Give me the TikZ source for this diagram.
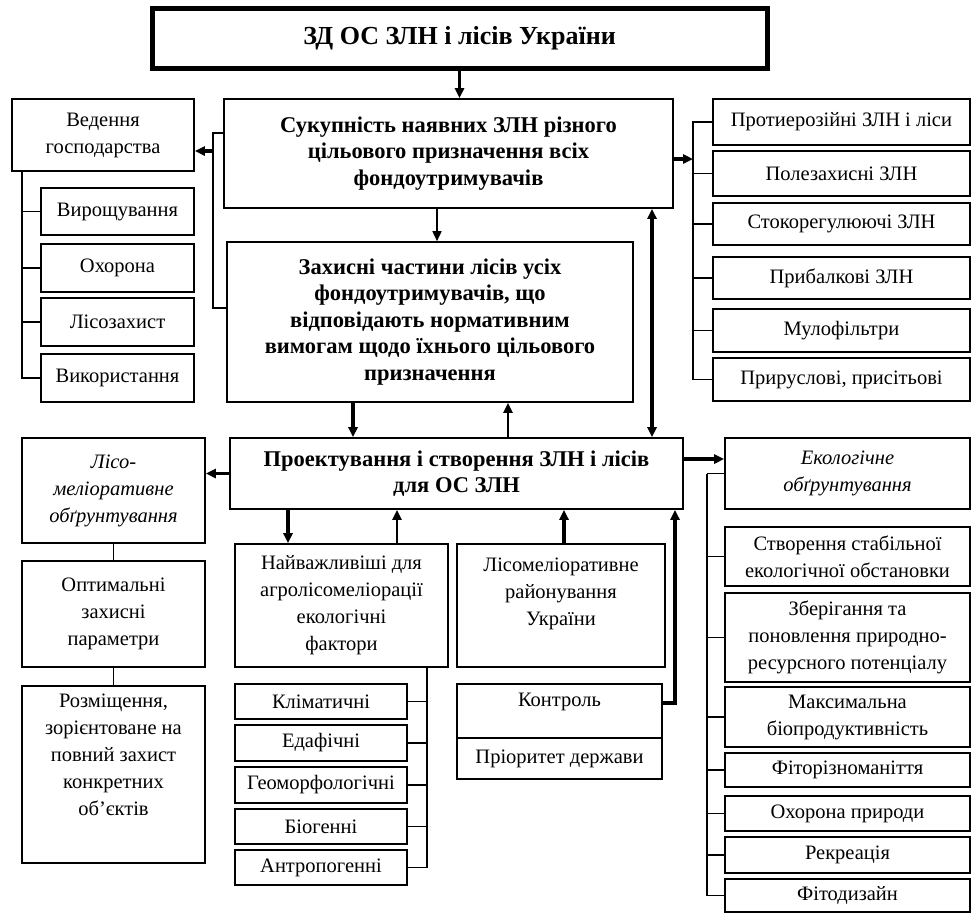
\documentclass[tikz,border=0pt]{standalone}
\usepackage{fontspec}
\setmainfont{Liberation Serif}
\usetikzlibrary{arrows.meta}

\newcommand{\normsz}{\fontsize{20.5}{27}\selectfont}
\newcommand{\boldsz}{\fontsize{22.5}{26.5}\selectfont\bfseries}
\newcommand{\titlesz}{\fontsize{26}{30}\selectfont\bfseries}

\begin{document}
\begin{tikzpicture}[x=1pt, y=-1pt, >={Triangle[length=10pt,width=9pt]}, line width=1.6pt,
    blk/.style={draw, line width=1.6pt, align=center, inner sep=0pt, font=\normsz},
    bblk/.style={blk, font=\boldsz},
    iblk/.style={blk, font=\normsz\itshape},
    ttl/.style={draw, line width=5pt, inner sep=0pt, font=\titlesz},
    thk/.style={line width=3.6pt},
    mid/.style={line width=2.2pt},
    sz/.style 2 args={minimum width=#1pt, minimum height=#2pt}]

    \useasboundingbox (0,0) rectangle (973,914);

    % ================= верхній рівень =================
    \node[ttl, sz={615}{60}] (zd) at (459.5,38) {ЗД ОС ЗЛН і лісів України};
    \node[bblk, sz={449}{109}] (suk) at (448.5,153.5) {Сукупність наявних ЗЛН різного\\цільового призначення всіх\\фондоутримувачів};
    \node[bblk, sz={406}{160}] (zakh) at (430,322) {Захисні частини лісів усіх\\фондоутримувачів, що\\відповідають нормативним\\вимогам щодо їхнього цільового\\призначення};
    \node[bblk, sz={453}{71}] (proek) at (456.5,473.5) {Проектування і створення ЗЛН і лісів\\для ОС ЗЛН};

    % ================= ліва колонка: ведення господарства =================
    \node[blk, sz={182}{72}] (ved) at (103,135) {Ведення\\господарства};
    \node[blk, sz={153}{47}] (vyr) at (117.5,211.5) {Вирощування};
    \node[blk, sz={153}{48}] (okh) at (117.5,268) {Охорона};
    \node[blk, sz={153}{48}] (lisz) at (117.5,322) {Лісозахист};
    \node[blk, sz={153}{48}] (vyk) at (117.5,378) {Використання};

    % ================= права колонка: види ЗЛН =================
    \node[blk, sz={257}{46}] (prot) at (841.5,122) {Протиерозійні ЗЛН і ліси};
    \node[blk, sz={257}{45}] (pole) at (841.5,173.5) {Полезахисні ЗЛН};
    \node[blk, sz={257}{42}] (stok) at (841.5,224) {Стокорегулюючі ЗЛН};
    \node[blk, sz={257}{42}] (prib) at (841.5,278) {Прибалкові ЗЛН};
    \node[blk, sz={257}{43}] (mul) at (841.5,330.5) {Мулофільтри};
    \node[blk, sz={257}{43}] (prir) at (841.5,379.5) {Прируслові, присітьові};

    % ================= нижня ліва частина =================
    \node[iblk, sz={183}{105}] (lmo) at (113.5,490.5) {Лісо-\\меліоративне\\обґрунтування};
    \node[blk, sz={183}{106}] (opt) at (113.5,614) {Оптимальні\\захисні\\параметри};
    \node[blk, sz={183}{177}, text depth=40pt] (rozm) at (113.5,774.5) {Розміщення,\\зорієнтоване на\\повний захист\\конкретних\\об’єктів};

    % ================= фактори і районування =================
    \node[blk, sz={213}{123}] (najv) at (341.5,605.5) {Найважливіші для\\агролісомеліорації\\екологічні\\фактори};
    \node[blk, sz={172}{35}] (klim) at (321,701.5) {Кліматичні};
    \node[blk, sz={172}{36}] (edaf) at (321,743) {Едафічні};
    \node[blk, sz={172}{36}] (geom) at (321,785) {Геоморфологічні};
    \node[blk, sz={172}{35}] (biog) at (321,826.5) {Біогенні};
    \node[blk, sz={172}{35}] (antr) at (321,867.5) {Антропогенні};

    \node[blk, sz={208}{123}, text depth=27pt] (lmr) at (561,605.5) {Лісомеліоративне\\районування\\України};
    \node[blk, sz={205}{54}, text depth=23pt] (kontr) at (559.5,711) {Контроль};
    \node[blk, sz={205}{41}] (prior) at (559.5,758.5) {Пріоритет держави};

    % ================= права нижня частина: екологічне обґрунтування =================
    \node[iblk, sz={245}{71}] (eko) at (847.5,473.5) {Екологічне\\обґрунтування};
    \node[blk, sz={245}{59}] (stvor) at (847.5,556.5) {Створення стабільної\\екологічної обстановки};
    \node[blk, sz={245}{89}] (zber) at (847.5,637.5) {Зберігання та\\поновлення природно-\\ресурсного потенціалу};
    \node[blk, sz={245}{60}] (maks) at (847.5,717) {Максимальна\\біопродуктивність};
    \node[blk, sz={245}{34}] (fitor) at (847.5,770) {Фіторізноманіття};
    \node[blk, sz={245}{35}] (okhp) at (847.5,813.5) {Охорона природи};
    \node[blk, sz={245}{36}] (rekr) at (847.5,855) {Рекреація};
    \node[blk, sz={245}{33}] (fitod) at (847.5,895.5) {Фітодизайн};

    % ================= зв'язки між блоками =================
    \draw[thk,->] (zd.south) -- (zd.south |- suk.north);
    \draw[->] (437,0 |- suk.south) -- (437,0 |- zakh.north);
    \draw[thk,->] (353,0 |- zakh.south) -- (353,0 |- proek.north);
    \draw[mid,->] (508,0 |- proek.north) -- (508,0 |- zakh.south);
    \draw[thk,<->] (652,0 |- suk.south) -- (652,0 |- proek.north);

    % ліворуч: до ведення господарства
    \coordinate (lb) at (213,151);
    \draw (suk.west |- 0,133) -| (lb) |- (zakh.west |- 0,308);
    \draw[thk,->] (lb) -- (ved.east |- lb);
    \foreach \n in {vyr,okh,lisz,vyk}
        \draw (22,0 |- ved.south) |- (\n.west);

    % праворуч: до видів ЗЛН
    \coordinate (rb) at (693,159);
    \draw[thk,->] (suk.east |- rb) -- (rb);
    \foreach \n in {prot,pole,stok,prib,mul,prir}
        \draw (rb) |- (\n.west);

    % від проектування
    \draw[thk,->] (proek.west) -- (lmo.east |- proek.west);
    \draw[thk,->] (proek.east |- 0,459) -- (eko.west |- 0,459);
    \draw[thk,->] (288,0 |- proek.south) -- (288,0 |- najv.north);
    \draw[mid,->] (397,0 |- najv.north) -- (397,0 |- proek.south);
    \draw[thk,->] (564,0 |- lmr.north) -- (564,0 |- proek.south);
    \draw[thk,->] (kontr.east |- 0,703) -| (675,0 |- proek.south);

    % ліва гілка
    \draw (lmo) -- (opt);
    \draw (opt) -- (rozm);

    % фактори
    \foreach \n in {klim,edaf,geom,biog,antr}
        \draw (427,0 |- najv.south) |- (\n.east);

    % екологічне обґрунтування
    \coordinate (eb) at (707,0 |- eko.west);
    \draw (eko.west) -- (eb);
    \foreach \n in {stvor,zber,maks,fitor,okhp,rekr,fitod}
        \draw (eb) |- (\n.west);

\end{tikzpicture}
\end{document}
